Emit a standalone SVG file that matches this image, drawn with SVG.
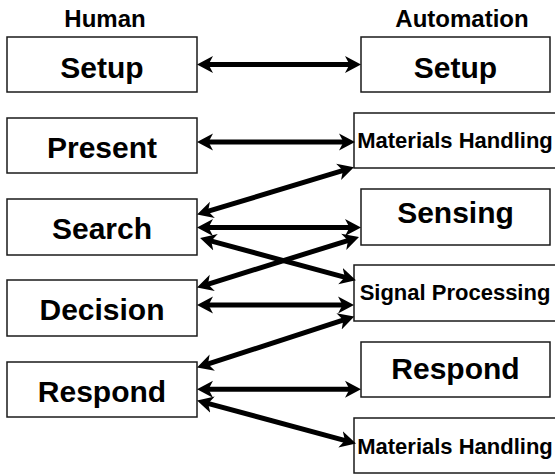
<svg xmlns="http://www.w3.org/2000/svg" width="555" height="474" viewBox="0 0 555 474">
<style>
.box{fill:#fff;stroke:#1a1a1a;stroke-width:1.5}
.big{font-family:"Liberation Sans",Arial,Helvetica,sans-serif;font-weight:bold;font-size:30px;text-anchor:middle;fill:#000}
.small{font-family:"Liberation Sans",Arial,Helvetica,sans-serif;font-weight:bold;font-size:22px;text-anchor:middle;fill:#000}
.hdr{font-family:"Liberation Sans",Arial,Helvetica,sans-serif;font-weight:bold;font-size:24px;text-anchor:middle;fill:#000}
.conn line{stroke:#000;stroke-width:5;marker-start:url(#ah);marker-end:url(#ah)}
</style>
<defs>
<marker id="ah" markerUnits="userSpaceOnUse" markerWidth="18" markerHeight="18" refX="5" refY="9" orient="auto-start-reverse" viewBox="0 0 18 18">
<path d="M16,9 L0,0.5 L4.5,9 L0,17.5 Z" fill="#000"/>
</marker>
</defs>
<text class="hdr" x="105" y="27">Human</text>
<text class="hdr" x="462" y="27">Automation</text>
<g id="h-setup"><rect class="box" x="7" y="37" width="190" height="55"/><text class="big" x="102" y="78">Setup</text></g>
<g id="h-present"><rect class="box" x="7" y="118" width="190" height="55"/><text class="big" x="102" y="158">Present</text></g>
<g id="h-search"><rect class="box" x="7" y="199" width="190" height="56"/><text class="big" x="102" y="239">Search</text></g>
<g id="h-decision"><rect class="box" x="7" y="280" width="190" height="56"/><text class="big" x="102" y="320">Decision</text></g>
<g id="h-respond"><rect class="box" x="7" y="362" width="190" height="55"/><text class="big" x="102" y="402">Respond</text></g>
<g id="a-setup"><rect class="box" x="361" y="37" width="189" height="55"/><text class="big" x="455.5" y="78">Setup</text></g>
<g id="a-mh1"><rect class="box" x="354" y="113" width="202" height="55"/><text class="small" x="455" y="148">Materials Handling</text></g>
<g id="a-sensing"><rect class="box" x="361" y="189" width="189" height="56"/><text class="big" x="455.5" y="223">Sensing</text></g>
<g id="a-signal"><rect class="box" x="354" y="265" width="202" height="56"/><text class="small" x="455" y="300">Signal Processing</text></g>
<g id="a-respond"><rect class="box" x="361" y="342" width="189" height="55"/><text class="big" x="455.5" y="379">Respond</text></g>
<g id="a-mh2"><rect class="box" x="354" y="418" width="202" height="55"/><text class="small" x="455" y="454">Materials Handling</text></g>
<g id="connectors" class="conn">
<line x1="208" y1="64.5" x2="350" y2="64.5"/>
<line x1="208" y1="142" x2="344" y2="142"/>
<line x1="207.6" y1="211.4" x2="343.4" y2="170.4"/>
<line x1="208" y1="227.5" x2="350" y2="227.5"/>
<line x1="210.7" y1="240.9" x2="345.3" y2="277.4"/>
<line x1="207.5" y1="284.3" x2="348.5" y2="240.3"/>
<line x1="208" y1="305" x2="343" y2="305"/>
<line x1="207.5" y1="364.2" x2="343.8" y2="319.8"/>
<line x1="208" y1="389.3" x2="350" y2="389.3"/>
<line x1="207.7" y1="403.3" x2="345.4" y2="440.7"/>
</g>
</svg>
